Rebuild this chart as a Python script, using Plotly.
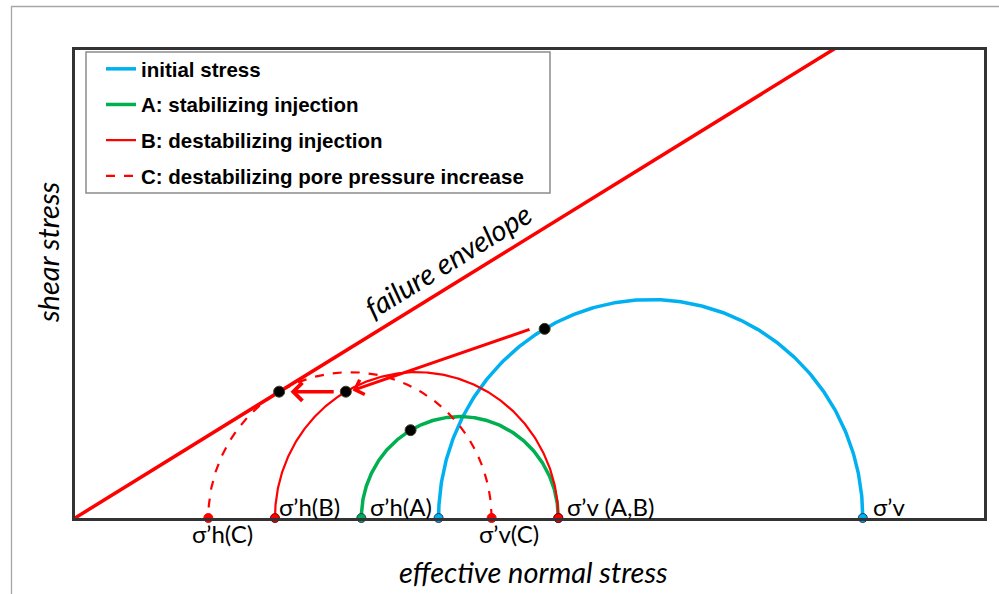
import numpy as np
import plotly.graph_objects as go

# ---------------- data ----------------
state_names = ["initial stress", "A: stabilizing injection",
               "B: destabilizing injection", "C: destabilizing pore pressure increase"]
sigma_h = [48.0, 37.8, 26.4, 17.6]      # effective horizontal stress (min)
sigma_v = [104.0, 63.8, 63.8, 55.0]     # effective vertical stress (max)
friction = 0.6                           # failure envelope slope
two_theta_deg = 120.0                    # plane orientation on Mohr circle
x_max = 120.0
y_max = 60.0

# ---------------- style ----------------
BLUE = "#00B0F0"
GREEN = "#00B050"
RED = "#FF0000"
line_colors = [BLUE, GREEN, RED, RED]
line_widths = [3.5, 3.5, 2.2, 2.2]
line_dashes = ["solid", "solid", "solid", "dash"]
end_outline = ["#1f3864", "#1f3864", "#7f0000", RED]

W, H = 999, 594
ML, MR, MT, MB = 75, 15, 50, 76
PW, PH = W - ML - MR, H - MT - MB


def px_x(p):
    return (p - ML) / PW


def px_y(p):
    return (H - MB - p) / PH


fig = go.Figure()

# failure envelope
env_x = [0.0, x_max]
env_y = [0.0, friction * x_max]
fig.add_trace(go.Scatter(x=env_x, y=env_y, mode="lines",
                         line=dict(color=RED, width=3.5), showlegend=False,
                         hoverinfo="skip"))

# Mohr semicircles
theta = np.linspace(0, np.pi, 300)
dots_x, dots_y = [], []
for i, name in enumerate(state_names):
    c = 0.5 * (sigma_h[i] + sigma_v[i])
    r = 0.5 * (sigma_v[i] - sigma_h[i])
    fig.add_trace(go.Scatter(
        x=c + r * np.cos(theta), y=r * np.sin(theta), mode="lines", name=name,
        legendgroup=name,
        line=dict(color=line_colors[i], width=line_widths[i], dash=line_dashes[i]),
        hoverinfo="skip"))
    a = np.deg2rad(two_theta_deg)
    dots_x.append(c + r * np.cos(a))
    dots_y.append(r * np.sin(a))

# end points on the axis
for i in range(len(state_names)):
    fig.add_trace(go.Scatter(
        x=[sigma_h[i], sigma_v[i]], y=[0, 0], mode="markers", showlegend=False,
        cliponaxis=False, hoverinfo="skip",
        marker=dict(size=9, color=line_colors[i],
                    line=dict(color=end_outline[i], width=1))))

# stress state on plane
fig.add_trace(go.Scatter(
    x=dots_x, y=dots_y, mode="markers", showlegend=False, cliponaxis=False,
    hoverinfo="skip",
    marker=dict(size=11, color="black", line=dict(color="#404020", width=1))))

annotations = []
# arrows: initial -> B, B -> C
arrow_pairs = [(0, 2, -1.8, 0.9), (2, 3, -1.4, 1.5)]
for k, (src, dst, tail_dx, head_dx) in enumerate(arrow_pairs):
    annotations.append(dict(
        x=dots_x[dst] + head_dx, y=dots_y[dst] + (0.15 if k == 0 else 0.0),
        ax=dots_x[src] + tail_dx, ay=dots_y[src],
        xref="x", yref="y", axref="x", ayref="y", text="",
        showarrow=True, arrowhead=4, arrowsize=1.0,
        arrowwidth=3 if k == 0 else 3.5, arrowcolor=RED))

lab_font = dict(family="Lato, Carlito, sans-serif", size=24, color="black")
# (text, x value, above axis?, xanchor, xshift)
labels = [
    ("σ’h(C)", sigma_h[3], False, "center", 14),
    ("σ’h(B)", sigma_h[2], True, "left", 2),
    ("σ’h(A)", sigma_h[1], True, "left", 7),
    ("σ’v(C)", sigma_v[3], False, "center", 17),
    ("σ’v (A,B)", sigma_v[2], True, "left", 7),
    ("σ’v", sigma_v[0], True, "left", 8),
]
for txt, xv, above, anc, xs in labels:
    annotations.append(dict(x=xv, y=px_y(506 if above else 533),
                            xref="x", yref="paper", text=txt,
                            showarrow=False, xanchor=anc, yanchor="middle",
                            xshift=xs, font=lab_font))

ital = dict(family="Lato, Carlito, sans-serif", size=29, color="black", style="italic")
annotations.append(dict(x=px_x(533), y=px_y(571), xref="paper", yref="paper",
                        text="effective normal stress", showarrow=False,
                        xanchor="center", yanchor="middle", font=ital))
annotations.append(dict(x=px_x(47), y=px_y(253), xref="paper", yref="paper",
                        text="shear stress", showarrow=False, textangle=-90,
                        xanchor="center", yanchor="middle", font=ital))
annotations.append(dict(x=px_x(447), y=px_y(260), xref="paper", yref="paper",
                        text="failure envelope", showarrow=False, textangle=-31.7,
                        xanchor="center", yanchor="middle", font=ital))

shapes = [
    # legend box
    dict(type="rect", xref="paper", yref="paper",
         x0=px_x(86), x1=px_x(550), y0=px_y(193), y1=px_y(52),
         line=dict(color="#8c8c8c", width=1.5)),
    # outer gray frame (top and left edges)
    dict(type="line", xref="paper", yref="paper",
         x0=px_x(11), x1=px_x(1010), y0=px_y(6.5), y1=px_y(6.5),
         line=dict(color="#a6a6a6", width=1.3)),
    dict(type="line", xref="paper", yref="paper",
         x0=px_x(11.5), x1=px_x(11.5), y0=px_y(6), y1=px_y(600),
         line=dict(color="#a6a6a6", width=1.3)),
]

axis_common = dict(showgrid=False, zeroline=False, showticklabels=False,
                   ticks="", showline=True, mirror=True,
                   linecolor="#333333", linewidth=2.5, fixedrange=True)

fig.update_layout(
    width=W, height=H,
    margin=dict(l=ML, r=MR, t=MT, b=MB),
    paper_bgcolor="white", plot_bgcolor="white",
    xaxis=dict(range=[0, x_max], **axis_common),
    yaxis=dict(range=[0, y_max], **axis_common),
    showlegend=True,
    legend=dict(x=px_x(101), y=px_y(49), xanchor="left", yanchor="top",
                bgcolor="rgba(0,0,0,0)", borderwidth=0,
                tracegroupgap=6,
                font=dict(family="Liberation Sans, Arial, sans-serif", size=20.5,
                          color="black", weight="bold")),
    annotations=annotations,
    shapes=shapes,
)

fig.write_html("out.html")
